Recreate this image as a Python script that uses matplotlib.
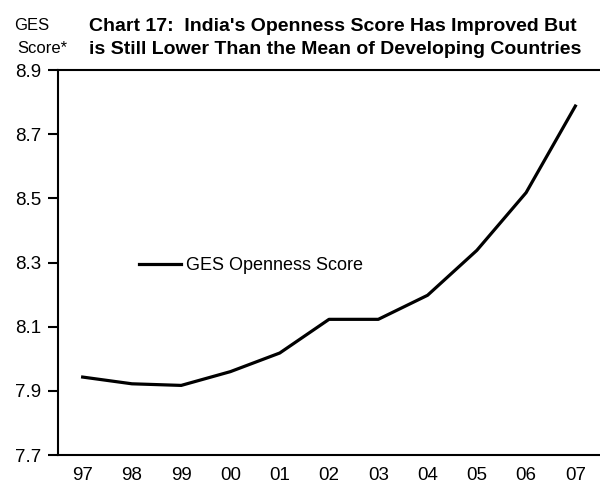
import matplotlib.pyplot as plt
import numpy as np

# GES openness score, India, 1997-2007
years = ["97", "98", "99", "00", "01", "02", "03", "04", "05", "06", "07"]
score = [7.943, 7.922, 7.917, 7.96, 8.018, 8.123, 8.123, 8.198, 8.338, 8.518, 8.788]
yticks = [7.7, 7.9, 8.1, 8.3, 8.5, 8.7, 8.9]

plt.rcParams['font.family'] = ['Liberation Sans', 'DejaVu Sans']

fig = plt.figure(figsize=(6, 4.87), dpi=100)
ax = fig.add_axes([0.0967, 0.0657, 0.9033, 0.7903])

x = np.arange(len(years))
ax.plot(x, score, color="black", lw=2.3, label="GES Openness Score")

ax.set_xlim(-0.5, len(years) - 0.5)
ax.set_ylim(7.7, 8.9)
ax.set_xticks(x)
ax.set_xticklabels(years)
ax.set_yticks(yticks)
ax.set_yticklabels([f"{v:.1f}" for v in yticks])
ax.tick_params(axis="x", length=0, labelsize=13.5, pad=8.5)
ax.tick_params(axis="y", length=7, width=1.5, labelsize=13.5, pad=5)

ax.spines["right"].set_visible(False)
for s in ["left", "bottom", "top"]:
    ax.spines[s].set_linewidth(1.5)

ax.legend(loc="center left", bbox_to_anchor=(0.149, 0.492), frameon=False,
          fontsize=13, handlelength=2.33, handletextpad=0.28,
          borderpad=0, borderaxespad=0)

fig.text(0.148, 1 - 31 / 487, "Chart 17:  India's Openness Score Has Improved But",
         ha="left", va="baseline", fontsize=14, fontweight="bold")
fig.text(0.148, 1 - 54 / 487, "is Still Lower Than the Mean of Developing Countries",
         ha="left", va="baseline", fontsize=14, fontweight="bold")
fig.text(14 / 600, 1 - 30 / 487, "GES", ha="left", va="baseline", fontsize=12)
fig.text(17 / 600, 1 - 53 / 487, "Score*", ha="left", va="baseline", fontsize=12)

fig.savefig("out.png", dpi=100)
